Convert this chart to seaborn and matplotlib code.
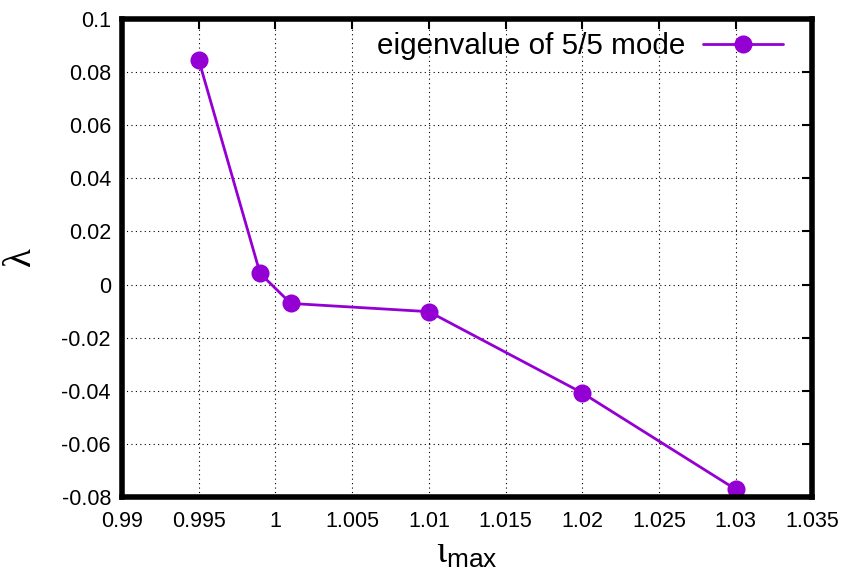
import matplotlib
matplotlib.use("Agg")
import matplotlib.pyplot as plt
import seaborn as sns
import pandas as pd

iota_max = [0.995, 0.999, 1.001, 1.01, 1.02, 1.03]
eigenvalue = [0.0846, 0.0042, -0.0071, -0.0102, -0.0408, -0.0771]
series_label = "eigenvalue of 5/5 mode"

x_ticks = [0.99, 0.995, 1.0, 1.005, 1.01, 1.015, 1.02, 1.025, 1.03, 1.035]
x_tick_labels = ["0.99", "0.995", "1", "1.005", "1.01", "1.015", "1.02", "1.025", "1.03", "1.035"]
y_ticks = [-0.08, -0.06, -0.04, -0.02, 0.0, 0.02, 0.04, 0.06, 0.08, 0.1]
y_tick_labels = ["-0.08", "-0.06", "-0.04", "-0.02", "0", "0.02", "0.04", "0.06", "0.08", "0.1"]

sns.set_style("white")
plt.rcParams["font.family"] = ["Liberation Sans", "DejaVu Sans"]
plt.rcParams["text.color"] = "black"
plt.rcParams["axes.labelcolor"] = "black"
plt.rcParams["mathtext.fontset"] = "custom"
plt.rcParams["mathtext.rm"] = "Liberation Serif"
plt.rcParams["mathtext.it"] = "Liberation Serif"
plt.rcParams["mathtext.sf"] = "Liberation Sans"

df = pd.DataFrame({"iota": iota_max, "lam": eigenvalue, "series": series_label})

fig = plt.figure(figsize=(8.45, 5.73), dpi=100)
ax = fig.add_axes([0.1444, 0.1326, 0.8171, 0.8342])

color = "#9400D3"
sns.lineplot(data=df, x="iota", y="lam", hue="series", palette=[color],
             marker="o", markersize=13, linewidth=2, markeredgewidth=0,
             ax=ax, legend=True)

ax.set_xlim(0.99, 1.035)
ax.set_ylim(-0.08, 0.1)
ax.set_xticks(x_ticks)
ax.set_xticklabels(x_tick_labels)
ax.set_yticks(y_ticks)
ax.set_yticklabels(y_tick_labels)
ax.tick_params(direction="in", length=7, width=1.5, top=True, right=True,
               labelsize=15.5, colors="black", pad=8)
ax.tick_params(axis="x", pad=10)

ax.grid(True, color="black", linestyle=(0, (1, 3)), linewidth=0.8)
for s in ax.spines.values():
    s.set_linewidth(4)
    s.set_color("black")

ax.set_xlabel(r"$\mathrm{\iota}_{\mathsf{max}}$", fontsize=27, labelpad=2)
ax.set_ylabel(r"$\mathrm{\lambda}$", fontsize=28, labelpad=16)

ax.legend(loc="upper right", frameon=False, markerfirst=False, fontsize=21.3,
          handlelength=2.7, borderaxespad=0.0, handletextpad=0.6,
          bbox_to_anchor=(0.974, 0.997))

fig.savefig("out.png", dpi=100)
